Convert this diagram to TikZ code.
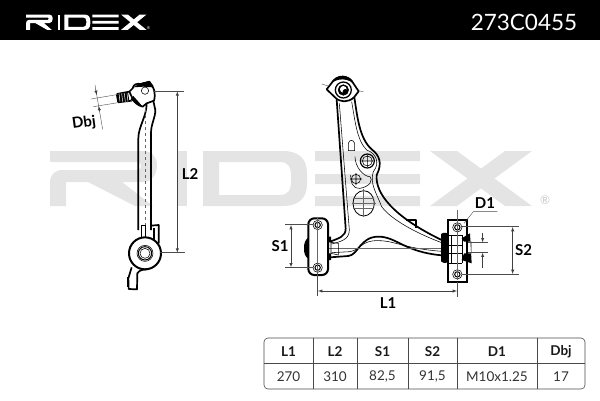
\documentclass[tikz,border=0pt]{standalone}
\usepackage{fontspec}
\setmainfont{Lato}
\definecolor{wmgray}{HTML}{E4E4E4}
\definecolor{tblgray}{HTML}{4A4A4A}
\tikzset{
  partline/.style={line width=1.7pt, line join=round},
  fineline/.style={line width=.55pt},
  centreline/.style={line width=.35pt, black!60},
  extline/.style={line width=.4pt, black!70},
  dimline/.style={line width=.5pt, black!75, <->, >=latex},
  dimlabel/.style={font=\bfseries\fontsize{15}{15}\selectfont, inner sep=0pt},
  headcell/.style={font=\bfseries\fontsize{13.5}{13.5}\selectfont, text=black!90, inner sep=0pt},
  datacell/.style={font=\fontsize{13.5}{13.5}\selectfont, text=black!80, inner sep=0pt},
  logoword/.pic={
    \fill[even odd rule] (0,0) -- (93,0) .. controls (102,0) and (107,6) .. (107,14)
      .. controls (107,23) and (102,31) .. (93,31) -- (72,31) -- (103,55) -- (85,55)
      -- (38,31) -- (16,31) -- (16,55) -- (0,55) -- (0,32) .. controls (0,23) and (5,19) .. (13,19)
      -- (88,19) .. controls (92,19) and (92,11) .. (88,11) -- (0,11) -- cycle;
    \fill (127,0) rectangle (137,55);
    \fill[even odd rule] (153,0) -- (233,0) .. controls (250,0) and (257,9) .. (257,22) -- (257,33)
      .. controls (257,46) and (250,55) .. (233,55) -- (153,55) -- cycle
      (169,11) -- (230,11) .. controls (238,11) and (241,16) .. (241,23) -- (241,32)
      .. controls (241,39) and (238,44) .. (230,44) -- (169,44) -- cycle;
    \fill (265,0) rectangle (370,10) (265,23) rectangle (370,33) (265,45) rectangle (370,55);
    \fill (380,0) -- (407,0) -- (482,55) -- (455,55) -- cycle;
    \fill (455,0) -- (482,0) -- (407,55) -- (380,55) -- cycle;
  }
}
\begin{document}
\begin{tikzpicture}[x=1pt,y=-1pt]
  \useasboundingbox (0,0) rectangle (600,400);
  % header
  \fill[black] (0,0) rectangle (600,40);
  \pic[white, xscale=.25, yscale=.28] at (26,14.5) {logoword};
  \node (logomark) at (148.5,28) [white, inner sep=0pt, font=\fontsize{4}{4}\selectfont] {®};
  \node (partno) at (524,22.5) [white, inner sep=0pt, font=\fontsize{22.5}{22.5}\selectfont] {273C0455};
  % watermark
  \pic[wmgray] at (50,151) {logoword};
  \node (wmmark) at (545,200) [text=black!22, inner sep=0pt, font=\fontsize{12}{12}\selectfont] {®};

  % side view
  \begin{scope}[shift={(50,60)}, scale=1/3]
    % arm
    \draw[partline] (265,510) -- (265,235) .. controls (265,200) and (290,170) .. (290,130);
    \draw[partline] (303,510) -- (303,220) .. controls (303,190) and (316,175) .. (316,150) -- (305,100);
    \draw[centreline, dashed] (285,130) -- (285,530);
    % ball joint
    \draw[partline, fill=white] (248,85) .. controls (250,72) and (262,70) .. (272,72)
      -- (298,65) .. controls (312,80) and (318,100) .. (312,122) -- (290,130) -- (278,140)
      .. controls (262,136) and (250,125) .. (246,112) -- (238,95) -- cycle;
    \fill[black] (250,82) -- (270,70) -- (298,63) -- (308,82) -- (280,80) -- cycle;
    \fill[black] (242,118) -- (262,134) -- (278,140) -- (266,126) -- (250,108) -- cycle;
    \draw[fineline, fill=white] (285,92) circle (11);
    \draw[partline] (200,102) -- (238,95) (204,127) -- (245,122);
    \fill[black] (198,104) -- (234,98) -- (238,122) -- (202,127) -- cycle;
    \foreach \hx in {207,215,223,231}
      \draw[white, line width=.5pt] (\hx,100) -- (\hx+3,125);
    % clamp and bush
    \draw[partline] (303,497) -- (326,495) -- (326,550);
    \draw[fineline] (273,495) rectangle (287,535);
    \fill[black] (308,505) rectangle (316,545);
    \draw[line width=2pt, fill=white] (285,580) circle (48);
    \draw[fineline] (285,580) circle (24);
    \draw[line width=1pt] (285,580) circle (20);
    \draw[fineline] (285,580) circle (15);
    \draw[partline] (245,622) -- (235,655) -- (236,687) -- (261,688) -- (262,640) .. controls (268,630) and (280,628) .. (292,628);
    \fill[black] (232,650) rectangle (238,680);
    % dimensions
    \draw[extline] (123,117) -- (200,104);
    \draw[extline] (130,140) -- (204,128);
    \draw[extline] (135,75) -- (158,208);
    \draw[dimline, <-] (140,105) -- (137,88);
    \draw[dimline, <-] (146,138) -- (149,155);
    \draw[extline] (310,93) -- (402,93);
    \draw[extline] (330,578) -- (405,578);
    \draw[dimline] (382,94) -- (382,578);
  \end{scope}
  \node (dbjlabel) at (84,123) [dimlabel, rotate=8] {Dbj};
  \node (ltwolabel) at (190,174.5) [dimlabel] {L2};

  % front view
  \begin{scope}[shift={(260,60)}, scale=1/3]
    % arm outline
    \draw[partline] (230,118) -- (257,505) .. controls (258,530) and (235,535) .. (210,545);
    \draw[partline] (283,112) .. controls (292,170) and (298,235) .. (335,268)
      .. controls (358,285) and (368,310) .. (350,345) .. controls (345,400) and (400,470) .. (545,540);
    \draw[partline] (210,592) -- (265,588) .. controls (295,585) and (300,530) .. (355,530)
      .. controls (410,530) and (430,575) .. (545,586);
    % inner lines
    \draw[fineline] (238,130) -- (268,510) .. controls (268,540) and (240,545) .. (215,552);
    \draw[fineline] (275,125) .. controls (285,180) and (290,240) .. (320,270)
      .. controls (350,280) and (360,310) .. (340,335) .. controls (328,370) and (350,400) .. (365,440)
      .. controls (395,480) and (470,520) .. (545,548);
    \draw[fineline] (215,578) -- (270,575) .. controls (300,570) and (305,540) .. (355,542)
      .. controls (405,542) and (430,565) .. (545,574);
    \draw[fineline] (285,290) .. controls (285,320) and (310,350) .. (330,350)
      .. controls (340,360) and (330,380) .. (300,385) .. controls (275,385) and (272,365) .. (272,345);
    \draw[centreline] (200,565) -- (550,565);
    % bracket behind the arm
    \draw[partline] (437,480) -- (468,480) -- (468,505);
    % slot and holes
    \draw[fineline] (265,272) -- (265,250) .. controls (268,238) and (280,238) .. (284,250) -- (284,272) -- cycle;
    \draw[line width=1.2pt] (322,303) circle (21);
    \draw[fineline] (322,303) circle (15) (304,303) -- (340,303) (322,285) -- (322,321);
    \draw[fineline] (288,357) circle (14) (270,357) -- (306,357) (288,339) -- (288,375);
    \draw[line width=.8pt] (311,430) ellipse (32 and 38);
    \draw[centreline] (275,430) -- (347,430) (279,415) -- (343,415) (279,445) -- (343,445) (311,388) -- (311,472);
    % ball joint
    \draw[extline] (185,72) -- (205,78) (294,92) -- (310,95);
    \draw[partline, fill=white] (200,88) -- (214,70) .. controls (228,44) and (268,44) .. (280,70)
      -- (296,94) -- (282,112) .. controls (265,128) and (240,128) .. (225,112) -- cycle;
    \fill[black] (213,72) .. controls (225,38) and (272,38) .. (284,76)
      .. controls (270,54) and (230,52) .. (213,72) -- cycle;
    \draw[line width=1.3pt] (250,90) circle (24);
    \draw[fill=black] (250,90) circle (16);
    \fill[white] (250,88) circle (10);
    \fill[black] (256,95) circle (8);
    % left bush
    \fill[black] (145,533) .. controls (135,540) and (132,550) .. (132,565)
      .. controls (132,580) and (135,590) .. (145,596) -- cycle;
    \fill[black] (198,530) rectangle (213,547) (198,580) rectangle (213,600);
    \draw[fineline] (213,547) -- (235,550) -- (235,585) -- (213,580) (213,547) -- (213,580);
    \draw[line width=2pt, fill=white, rounded corners=6pt] (145,475) rectangle (204,645);
    \draw[fineline] (173,495) circle (14) (173,623) circle (14);
    \draw[line width=1pt] (173,495) circle (8) (173,623) circle (8);
    \draw[centreline] (173,470) -- (173,640);
    % right bush
    \fill[black] (543,522) .. controls (552,515) and (565,518) .. (565,525) -- (565,600)
      .. controls (565,610) and (552,612) .. (543,604) -- cycle;
    \draw[line width=2pt, fill=white] (565,480) rectangle (620,665);
    \draw[fineline] (575,525) -- (575,610) (607,525) -- (607,610)
      (565,525) -- (607,525) (565,555) -- (607,555) (565,580) -- (607,580) (565,610) -- (607,610);
    \fill[black] (605,535) -- (630,520) -- (635,610) -- (605,600) -- (612,580) -- (634,580) -- (634,545) -- (612,545) -- cycle;
    \draw[fineline] (592,502) circle (14) (592,643) circle (14);
    \draw[line width=1pt] (592,502) circle (8) (592,643) circle (8);
    \draw[centreline] (592,450) -- (592,660);
    % dimensions
    \draw[extline] (75,494) -- (160,494);
    \draw[extline] (75,623) -- (160,623);
    \draw[dimline] (93,495) -- (93,622);
    \draw[extline] (605,500) -- (778,500);
    \draw[extline] (605,643) -- (778,643);
    \draw[dimline] (758,501) -- (758,642);
    \draw[extline] (712,455) -- (640,455) -- (612,490);
    \draw[extline] (625,547) -- (685,547);
    \draw[extline] (625,578) -- (685,578);
    \draw[dimline, <-] (668,547) -- (668,520);
    \draw[dimline, <-] (668,578) -- (668,625);
    \draw[extline] (173,640) -- (173,708);
    \draw[extline] (592,665) -- (592,712);
    \draw[dimline] (174,693) -- (591,693);
  \end{scope}
  \node (sonelabel) at (280,246.5) [dimlabel] {S1};
  \node (stwolabel) at (523.5,250) [dimlabel] {S2};
  \node (donelabel) at (485,203) [dimlabel] {D1};
  \node (lonelabel) at (388,303) [dimlabel] {L1};

  % table
  \draw[line width=.6pt, tblgray, rounded corners=4pt] (264,338) rectangle (585,389);
  \draw[line width=.6pt, tblgray] (264,363.5) -- (585,363.5);
  \foreach \colx in {313,357,408,457,537}
    \draw[line width=.6pt, tblgray] (\colx,338) -- (\colx,389);
  \foreach \cname/\cx/\chead/\cdata in {a/288.5/L1/270, b/335/L2/310, c/382.5/S1/{82,5}, d/432.5/S2/{91,5}, e/497/D1/{M10x1.25}, f/561/Dbj/17} {
    \node (head\cname) at (\cx,352) [headcell] {\chead};
    \node (data\cname) at (\cx,377) [datacell] {\cdata};
  }
\end{tikzpicture}
\end{document}
